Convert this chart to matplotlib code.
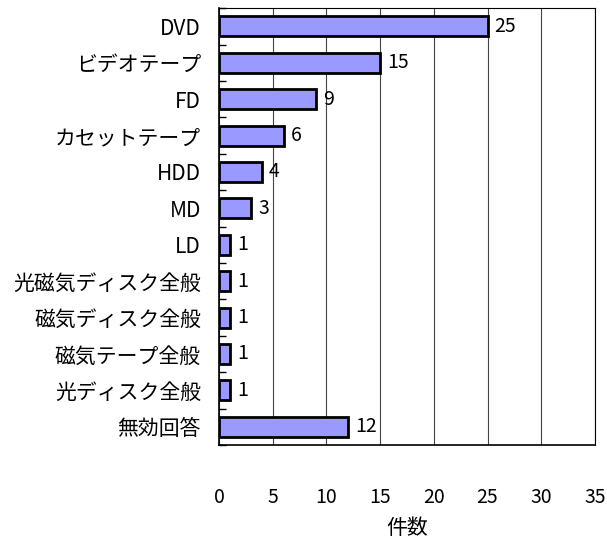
import numpy as np
import matplotlib
matplotlib.use("Agg")
import matplotlib.pyplot as plt

plt.rcParams['font.family'] = ['Noto Sans CJK JP', 'DejaVu Sans']

categories = ['DVD', 'ビデオテープ', 'FD', 'カセットテープ', 'HDD', 'MD', 'LD',
              '光磁気ディスク全般', '磁気ディスク全般', '磁気テープ全般', '光ディスク全般', '無効回答']
counts = [25, 15, 9, 6, 4, 3, 1, 1, 1, 1, 1, 12]
xticks = [0, 5, 10, 15, 20, 25, 30, 35]

fig = plt.figure(figsize=(6.07, 5.46), dpi=100)
ax = fig.add_axes([0.361, 0.185, 0.619, 0.800])

y = np.arange(len(categories))
ax.barh(y, counts, height=0.55, color='#9999FF', edgecolor='black', linewidth=2, zorder=3)
for yi, c in zip(y, counts):
    ax.annotate(str(c), (c, yi), xytext=(5, 0), textcoords='offset points',
                va='center', ha='left', fontsize=14, zorder=4)

ax.set_xlim(0, 35)
ax.set_ylim(len(categories) - 0.5, -0.5)
ax.set_xticks(xticks)
ax.set_xticklabels([str(t) for t in xticks], fontsize=14)
ax.tick_params(axis='x', length=0, pad=30)
ax.set_yticks(y)
ax.set_yticklabels(categories, fontsize=15)
ax.tick_params(axis='y', which='major', length=0, pad=13)
ax.set_yticks(np.arange(len(categories) + 1) - 0.5, minor=True)
ax.tick_params(axis='y', which='minor', direction='in', length=5, width=1, left=True)

ax.grid(axis='x', color='#444444', linewidth=0.8, zorder=0)
for s in ['top', 'right']:
    ax.spines[s].set_linewidth(0.8)
for s in ['left', 'bottom']:
    ax.spines[s].set_linewidth(1.2)

# x label sits well below the tick labels, centred on the plot area
fig.text(0.361 + 0.619 / 2, 0.033, '件数', fontsize=15, ha='center', va='center')

fig.savefig('out.png', dpi=100)
